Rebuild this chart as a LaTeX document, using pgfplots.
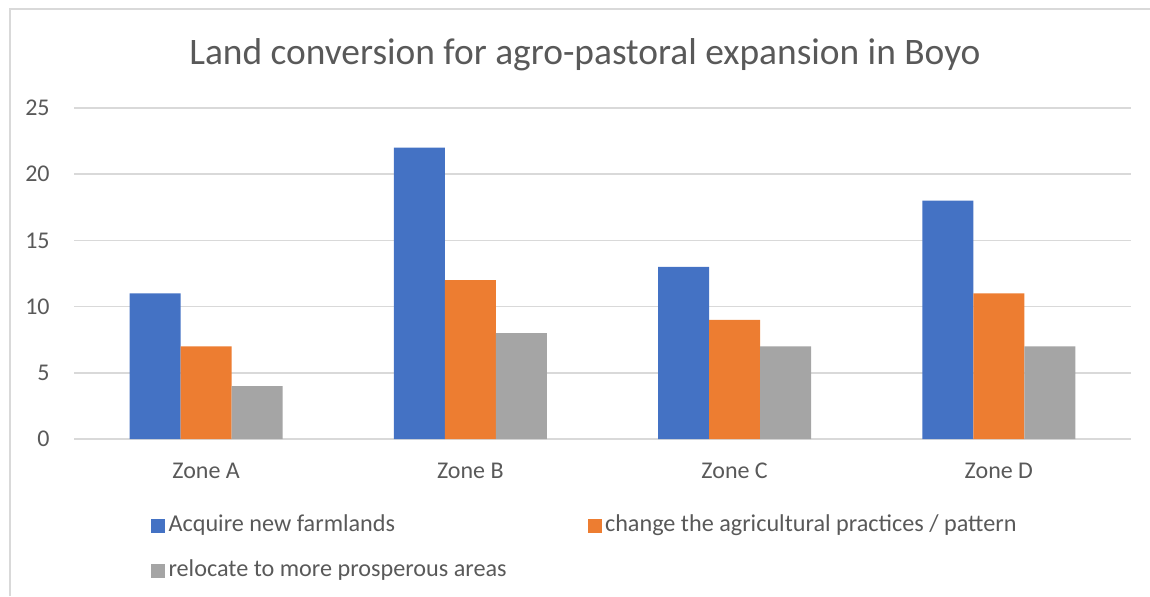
\documentclass[border=0pt]{standalone}
\usepackage{fontspec}
\setmainfont{Carlito}
\usepackage{pgfplots}
\pgfplotsset{compat=1.18}

\definecolor{cblue}{HTML}{4472C4}
\definecolor{corange}{HTML}{ED7D31}
\definecolor{cgray}{HTML}{A5A5A5}
\definecolor{ctext}{HTML}{595959}
\definecolor{cgrid}{HTML}{D9D9D9}

\begin{document}
\begin{tikzpicture}
  % picture frame: 1150x596 px at 0.5pt per px
  \path[use as bounding box] (0,0) rectangle (575pt,298pt);
  \draw[cgrid, line width=0.75pt] (5pt,0) -- (5pt,293.5pt) -- (575pt,293.5pt);
  \node[anchor=base, text=ctext, font=\fontsize{18.7}{22}\selectfont]
    at (292.5pt,265.5pt) {Land conversion for agro-pastoral expansion in Boyo};

  \begin{axis}[
      at={(37pt,78.5pt)}, anchor=south west,
      scale only axis, width=528.5pt, height=165.5pt,
      ybar=0pt, bar width=25.5pt,
      xmin=-0.5, xmax=3.5, ymin=0, ymax=25,
      enlargelimits=false,
      xtick={0,1,2,3},
      xticklabels={Zone A, Zone B, Zone C, Zone D},
      ytick={0,5,...,25},
      ymajorgrids=true,
      grid style={cgrid, line width=0.75pt},
      axis x line*=bottom, axis y line*=left,
      x axis line style={cgrid, line width=0.75pt, -},
      y axis line style={draw=none},
      major tick length=0pt, tick style={draw=none},
      tick label style={text=ctext, font=\fontsize{12}{14}\selectfont},
      /pgf/number format/assume math mode=true,
      xticklabel style={anchor=base, inner sep=0pt, yshift=-19.5pt},
      yticklabel style={anchor=east, inner sep=0pt, xshift=-12pt},
      legend columns=2,
      legend cell align=left,
      legend image code/.code={\fill[#1] (0pt,-3.5pt) rectangle (7pt,3.5pt);},
      legend style={
        at={(0.0728,-0.22)}, anchor=north west,
        draw=none, fill=none, inner sep=0pt,
        font=\fontsize{12.1}{14}\selectfont, text=ctext,
        nodes={inner sep=1.6pt, text height=8pt, text depth=2.5pt},
        row sep=9pt,
        /tikz/every even column/.append style={column sep=39pt},
      },
    ]
    \addplot[fill=cblue, draw=none] coordinates {(0,11) (1,22) (2,13) (3,18)};
    \addplot[fill=corange, draw=none] coordinates {(0,7) (1,12) (2,9) (3,11)};
    \addplot[fill=cgray, draw=none] coordinates {(0,4) (1,8) (2,7) (3,7)};
    \legend{Acquire new farmlands, change the agricultural practices / pattern, relocate to more prosperous areas}
  \end{axis}
\end{tikzpicture}
\end{document}
